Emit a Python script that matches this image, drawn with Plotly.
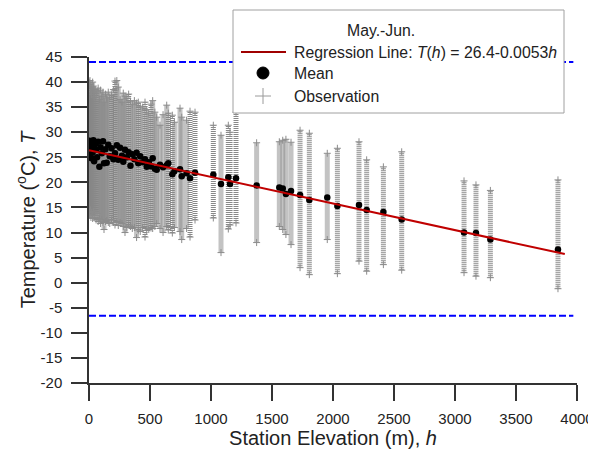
"""
Temperatura x elevação das estações (Mai.-Jun.) - reta de regressão,
médias por estação e faixa das observações.
"""

import plotly.graph_objects as go

# ==========================================
# DADOS
# ==========================================
station_h = [
    2, 5, 8, 12, 16, 20, 25, 30, 36, 42, 50, 58, 66, 75, 85, 95, 105, 115, 123,
    135, 145, 158, 170, 185, 200, 213, 228, 240, 255, 270, 281, 295, 310, 325,
    340, 355, 372, 390, 404, 420, 440, 459, 473, 490, 508, 522, 540, 555, 582,
    607, 637, 650, 683, 700, 746, 760, 800, 828, 869,
    1019, 1082, 1142, 1156, 1205, 1374, 1560, 1588, 1614, 1656, 1730, 1806,
    1953, 2036, 2213, 2276, 2413, 2563, 3074, 3172, 3290, 3844,
]
mean_T = [
    28.3, 27.5, 26.8, 25.5, 28.0, 24.8, 27.2, 26.0, 28.4, 24.2, 27.6, 26.5, 25.0,
    28.1, 23.1, 27.0, 25.8, 28.2, 23.8, 26.6, 23.9, 27.5, 25.2, 26.8, 24.6, 25.8,
    27.4, 24.5, 26.9, 25.3, 24.1, 26.5, 25.0, 26.0, 23.3, 25.6, 24.6, 25.9, 23.8,
    25.2, 24.0, 24.6, 23.1, 24.0, 23.2, 24.8, 22.7, 22.5, 23.5, 23.0, 23.4, 23.8,
    21.6, 22.2, 22.6, 21.2, 21.8, 20.8, 21.9,
    21.5, 19.7, 21.0, 19.7, 20.8, 19.4, 19.0, 18.8, 17.7, 18.3, 17.5, 16.5,
    17.0, 15.3, 15.5, 14.5, 14.1, 12.6, 10.0, 9.9, 8.6, 6.6,
]
obs_max = [
    40.0, 39.5, 40.3, 38.0, 39.0, 37.5, 38.8, 40.0, 39.2, 37.0, 38.5, 37.8, 38.2,
    38.8, 36.5, 38.4, 37.2, 38.0, 36.0, 37.6, 36.8, 38.0, 37.0, 37.4, 38.5, 40.2,
    40.3, 39.0, 36.5, 36.0, 37.8, 37.2, 36.8, 37.6, 36.2, 35.5, 36.3, 35.8, 36.0,
    35.2, 35.0, 36.0, 34.5, 33.8, 35.6, 36.3, 34.0, 33.0, 31.4, 33.5, 35.4, 33.8,
    33.4, 32.0, 34.8, 33.0, 32.4, 34.2, 34.0,
    31.4, 29.4, 31.4, 30.0, 34.0, 27.9, 28.1, 28.4, 28.6, 28.0, 30.4, 29.8,
    25.8, 26.8, 28.1, 24.5, 23.1, 26.1, 20.3, 19.5, 18.4, 20.5,
]
obs_min = [
    14.0, 13.5, 13.8, 14.5, 13.0, 14.0, 13.6, 12.8, 14.2, 13.0, 13.4, 12.5, 13.8,
    12.2, 12.8, 11.8, 12.6, 12.0, 10.6, 12.2, 12.4, 12.0, 11.8, 12.5, 12.0, 11.5,
    12.2, 11.4, 12.0, 11.8, 11.2, 10.0, 11.0, 11.5, 11.2, 10.8, 11.0, 9.0, 10.5,
    10.2, 11.0, 9.1, 10.4, 10.6, 10.9, 10.8, 11.2, 11.8, 10.8, 10.0, 11.2, 10.5,
    9.9, 11.0, 10.2, 8.6, 10.8, 9.1, 12.5,
    12.9, 6.0, 10.7, 11.5, 11.9, 8.0, 11.2, 10.6, 9.6, 7.6, 3.0, 1.6,
    8.6, 1.8, 4.3, 2.3, 3.6, 2.5, 2.0, 1.3, 1.0, -1.2,
]

# Reta de regressão T(h) = 26.4 - 0.0053h (extremos)
reg_h = [0, 3900]
reg_T = [26.4, 5.7]

# Linhas-limite tracejadas (azul)
limite_h = [0, 3970]
limite_sup = 44.0
limite_inf = -6.6

# Ticks
x_ticks = [0, 500, 1000, 1500, 2000, 2500, 3000, 3500, 4000]
y_ticks = [-20, -15, -10, -5, 0, 5, 10, 15, 20, 25, 30, 35, 40, 45]
y_ticktext = ['-20', '-15', '-10', '-5', '0', '5', '10', '15', '20', '25', '30', '35', '40', '45']

legenda_titulo = 'May.-Jun.'
legenda_itens = [
    'Regression Line: <i>T</i>(<i>h</i>) = 26.4-0.0053<i>h</i>',
    'Mean',
    'Observation',
]

FONTE = "Arial, 'Liberation Sans', sans-serif"

# A página tem margem de 8 px no body: a figura começa em (8, 8) da janela
OFFSET = 8
LARG, ALT = 596 - OFFSET, 449 - OFFSET
M_L, M_R, M_T, M_B = 89 - OFFSET, 19, 57 - OFFSET, 66
W_PLOT = LARG - M_L - M_R
H_PLOT = ALT - M_T - M_B


def px_x(p):
    """Pixel da janela (x) -> fração do papel."""
    return (p - OFFSET - M_L) / W_PLOT


def px_y(p):
    """Pixel da janela (y) -> fração do papel."""
    return (ALT - M_B - (p - OFFSET)) / H_PLOT


# ==========================================
# FIGURA
# ==========================================
fig = go.Figure()

# Colunas de observações (faixa min-max por estação), tracejado fino = linhas de "+"
col_x, col_y = [], []
for h, lo, hi in zip(station_h, obs_min, obs_max):
    col_x += [h, h, None]
    col_y += [lo, hi, None]
fig.add_trace(go.Scatter(
    x=col_x, y=col_y, mode='lines', line=dict(color='#888888', width=5, dash='1px,1px'),
    hoverinfo='skip'
))
fig.add_trace(go.Scatter(
    x=station_h + station_h, y=obs_min + obs_max, mode='markers',
    marker=dict(symbol='cross-thin', size=5, line=dict(color='#8C8C8C', width=1)),
    hoverinfo='skip'
))

# Limites tracejados
for nivel in (limite_sup, limite_inf):
    fig.add_trace(go.Scatter(
        x=limite_h, y=[nivel, nivel], mode='lines',
        line=dict(color='#0000FF', width=2, dash='7px,3px'),
        hoverinfo='skip'
    ))

# Médias
fig.add_trace(go.Scatter(
    x=station_h, y=mean_T, mode='markers', marker=dict(color='black', size=6.5)
))

# Regressão
fig.add_trace(go.Scatter(
    x=reg_h, y=reg_T, mode='lines', line=dict(color='#C00000', width=2)
))

# ==========================================
# LEGENDA (caixa, símbolos e textos)
# ==========================================
fig.add_shape(type='rect', xref='paper', yref='paper',
              x0=px_x(233), x1=px_x(564), y0=px_y(113), y1=px_y(10),
              fillcolor='white', line=dict(color='#A0A0A0', width=1))
fig.add_shape(type='line', xref='paper', yref='paper',
              x0=px_x(241), x1=px_x(286), y0=px_y(52), y1=px_y(52),
              line=dict(color='#A00000', width=2))
fig.add_shape(type='circle', xref='paper', yref='paper',
              x0=px_x(257), x1=px_x(269), y0=px_y(79), y1=px_y(67),
              fillcolor='black', line=dict(color='black', width=1))
fig.add_shape(type='line', xref='paper', yref='paper',
              x0=px_x(255), x1=px_x(271), y0=px_y(96), y1=px_y(96),
              line=dict(color='#9A9A9A', width=1))
fig.add_shape(type='line', xref='paper', yref='paper',
              x0=px_x(263), x1=px_x(263), y0=px_y(88), y1=px_y(104),
              line=dict(color='#9A9A9A', width=1))

fig.add_annotation(xref='paper', yref='paper', x=px_x(381), y=px_y(30),
                   text=legenda_titulo, showarrow=False, xanchor='center', yanchor='middle',
                   font=dict(family=FONTE, size=15.8, color='#222222'))
for texto, y_item in zip(legenda_itens, (52, 73, 96)):
    fig.add_annotation(xref='paper', yref='paper', x=px_x(292), y=px_y(y_item),
                       text=texto, showarrow=False, xanchor='left', yanchor='middle',
                       font=dict(family=FONTE, size=15.8, color='#222222'))

eixo = dict(
    showline=True, linecolor='#333333', linewidth=1.5, mirror=False,
    ticks='outside', ticklen=16, tickwidth=1.5, tickcolor='#333333',
    showgrid=False, zeroline=False, automargin=False,
    tickfont=dict(family=FONTE, size=15, color='#222222'),
    title_font=dict(family=FONTE, size=20, color='#222222'),
)

fig.update_layout(
    width=LARG, height=ALT,
    margin=dict(l=M_L, r=M_R, t=M_T, b=M_B),
    paper_bgcolor='white', plot_bgcolor='white',
    font=dict(family=FONTE, color='#222222'),
    xaxis=dict(eixo, range=[0, 4000], tickvals=x_ticks, ticklabelstandoff=5,
               title=dict(text='Station Elevation (m), <i>h</i>', standoff=1)),
    yaxis=dict(eixo, range=[-20, 45], tickvals=y_ticks, ticktext=y_ticktext,
               ticklabelstandoff=6,
               title=dict(text='Temperature (<sup>o</sup>C), <i>T</i>', standoff=0)),
    showlegend=False,
)

fig.write_html("out.html")
